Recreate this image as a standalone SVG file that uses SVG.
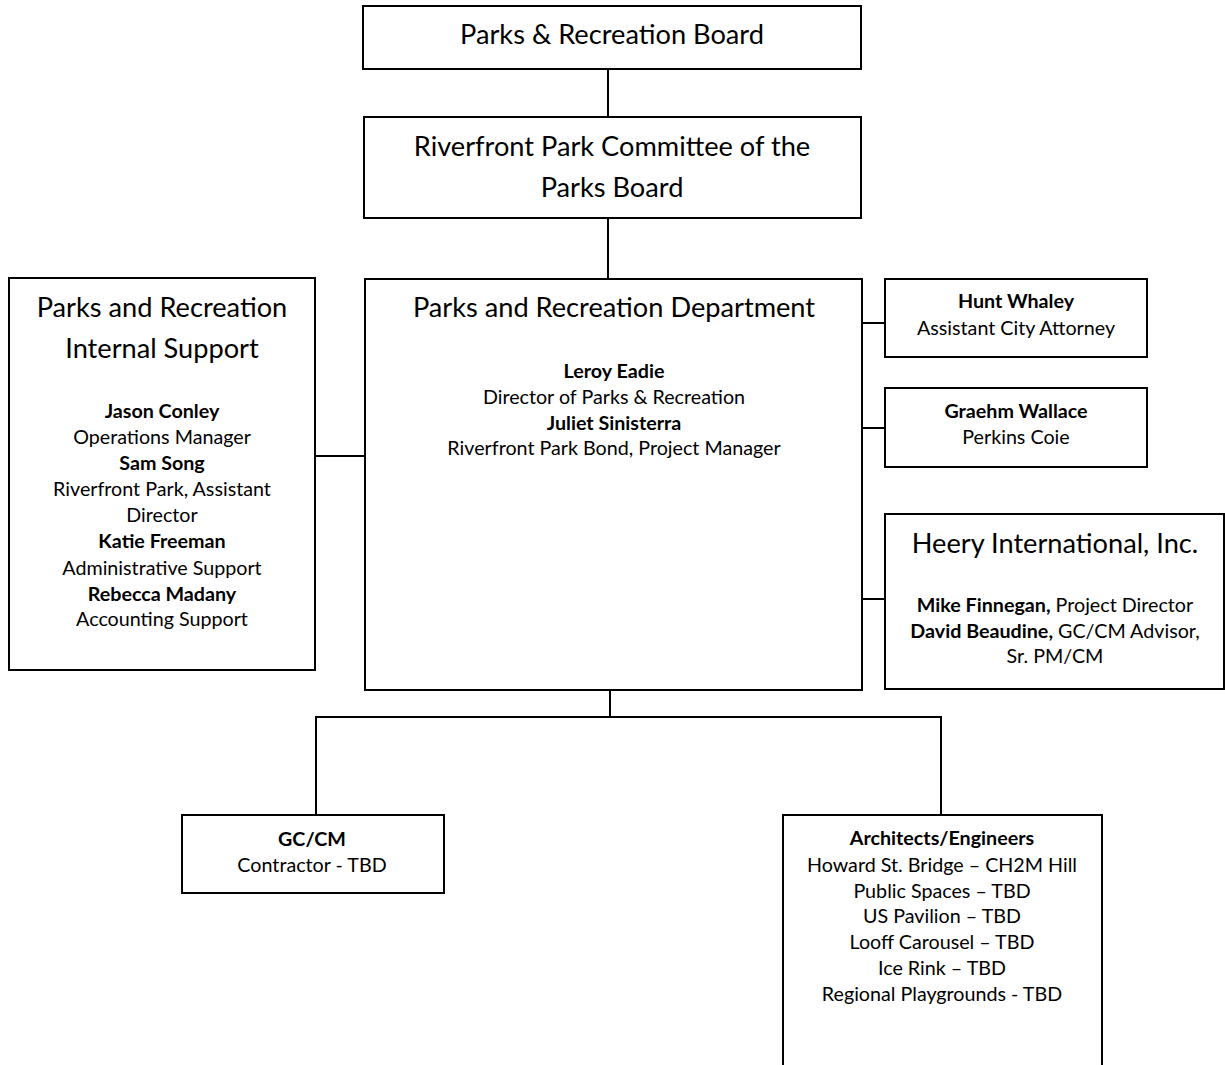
<svg xmlns="http://www.w3.org/2000/svg" width="1225" height="1065" viewBox="0 0 1225 1065">
<style>
.box{fill:#fff;stroke:#000;stroke-width:2}
.con{fill:none;stroke:#000;stroke-width:2}
text{font-family:Lato,"Liberation Sans",sans-serif;fill:#000;text-anchor:middle}
.t{font-size:27.2px}
.s{font-size:19.7px}
.b{font-weight:bold}
</style>
<rect width="1225" height="1065" fill="#fff"/>
<g id="connectors">
<line class="con" x1="608" y1="69" x2="608" y2="117"/>
<line class="con" x1="608" y1="218" x2="608" y2="279"/>
<line class="con" x1="315" y1="456" x2="366" y2="456"/>
<line class="con" x1="862" y1="323" x2="885" y2="323"/>
<line class="con" x1="862" y1="428" x2="885" y2="428"/>
<line class="con" x1="862" y1="599" x2="885" y2="599"/>
<polyline class="con" points="610,690 610,717"/>
<polyline class="con" points="316,815 316,717 941,717 941,815"/>
</g>
<g id="board">
<rect class="box" x="363" y="6" width="498" height="63"/>
<text class="t" x="612" y="44">Parks &amp; Recreation Board</text>
</g>
<g id="committee">
<rect class="box" x="364" y="117" width="497" height="101"/>
<text class="t" x="612" y="156">Riverfront Park Committee of the</text>
<text class="t" x="612" y="197">Parks Board</text>
</g>
<g id="department">
<rect class="box" x="365" y="279" width="497" height="411"/>
<text class="t" x="614" y="317">Parks and Recreation Department</text>
<text class="s b" x="614" y="378">Leroy Eadie</text>
<text class="s" x="614" y="404">Director of Parks &amp; Recreation</text>
<text class="s b" x="614" y="430">Juliet Sinisterra</text>
<text class="s" x="614" y="455">Riverfront Park Bond, Project Manager</text>
</g>
<g id="internal-support">
<rect class="box" x="9" y="278" width="306" height="392"/>
<text class="t" x="162" y="317">Parks and Recreation</text>
<text class="t" x="162" y="358">Internal Support</text>
<text class="s b" x="162" y="418">Jason Conley</text>
<text class="s" x="162" y="444">Operations Manager</text>
<text class="s b" x="162" y="470">Sam Song</text>
<text class="s" x="162" y="496">Riverfront Park, Assistant</text>
<text class="s" x="162" y="522">Director</text>
<text class="s b" x="162" y="548">Katie Freeman</text>
<text class="s" x="162" y="575">Administrative Support</text>
<text class="s b" x="162" y="601">Rebecca Madany</text>
<text class="s" x="162" y="626">Accounting Support</text>
</g>
<g id="hunt-whaley">
<rect class="box" x="885" y="279" width="262" height="78"/>
<text class="s b" x="1016" y="308">Hunt Whaley</text>
<text class="s" x="1016" y="335">Assistant City Attorney</text>
</g>
<g id="graehm-wallace">
<rect class="box" x="885" y="388" width="262" height="79"/>
<text class="s b" x="1016" y="418">Graehm Wallace</text>
<text class="s" x="1016" y="444">Perkins Coie</text>
</g>
<g id="heery">
<rect class="box" x="885" y="514" width="339" height="175"/>
<text class="t" x="1055" y="553">Heery International, Inc.</text>
<text class="s" x="1055" y="612"><tspan class="b">Mike Finnegan,</tspan> Project Director</text>
<text class="s" x="1055" y="638"><tspan class="b">David Beaudine,</tspan> GC/CM Advisor,</text>
<text class="s" x="1055" y="663">Sr. PM/CM</text>
</g>
<g id="gc-cm">
<rect class="box" x="182" y="815" width="262" height="78"/>
<text class="s b" x="312" y="846">GC/CM</text>
<text class="s" x="312" y="872">Contractor - TBD</text>
</g>
<g id="architects">
<rect class="box" x="783" y="815" width="319" height="270"/>
<text class="s b" x="942" y="845">Architects/Engineers</text>
<text class="s" x="942" y="872">Howard St. Bridge – CH2M Hill</text>
<text class="s" x="942" y="898">Public Spaces – TBD</text>
<text class="s" x="942" y="923">US Pavilion – TBD</text>
<text class="s" x="942" y="949">Looff Carousel – TBD</text>
<text class="s" x="942" y="975">Ice Rink – TBD</text>
<text class="s" x="942" y="1001">Regional Playgrounds - TBD</text>
</g>
</svg>
